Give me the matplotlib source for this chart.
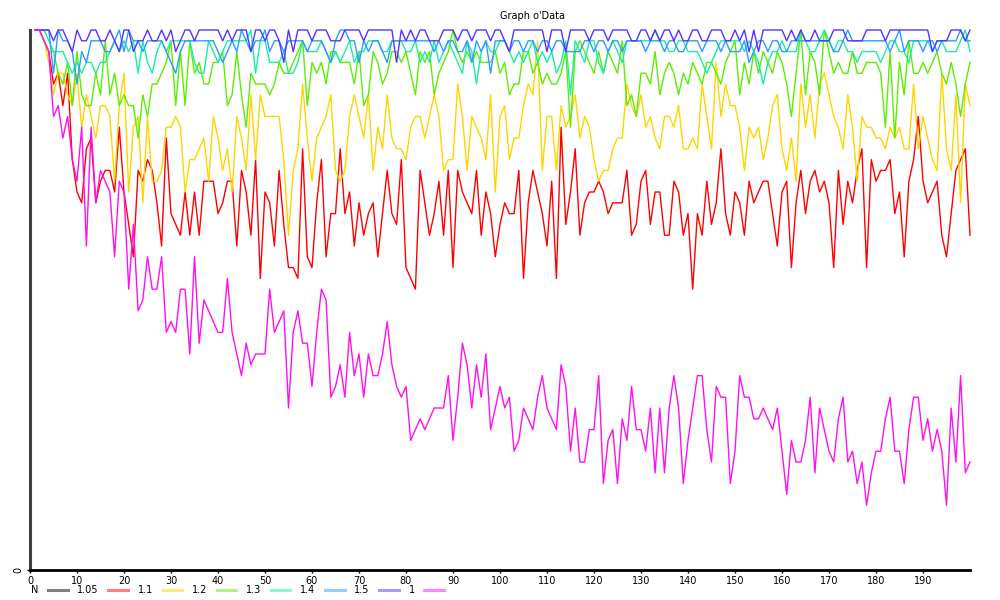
import matplotlib
matplotlib.use("Agg")
import matplotlib.pyplot as plt
from matplotlib.lines import Line2D
import numpy as np

x = list(range(1, 201))

s_1 = [50, 50, 49, 48, 42, 43, 40, 42, 38, 36,
       41, 30, 41, 34, 37, 36, 35, 29, 36, 35,
       26, 32, 24, 25, 29, 26, 26, 29, 22, 23,
       22, 26, 26, 20, 29, 21, 25, 24, 23, 22,
       22, 27, 22, 20, 18, 21, 19, 20, 20, 20,
       26, 22, 23, 24, 15, 22, 24, 21, 21, 17,
       22, 26, 25, 16, 17, 19, 16, 22, 18, 20,
       16, 20, 18, 18, 20, 23, 19, 17, 16, 17,
       12, 13, 14, 13, 14, 15, 15, 15, 18, 12,
       16, 21, 19, 15, 19, 16, 20, 13, 15, 17,
       15, 16, 11, 12, 15, 14, 13, 16, 18, 15,
       14, 13, 19, 17, 11, 15, 10, 10, 13, 13,
       18, 8, 12, 13, 8, 14, 12, 17, 13, 13,
       11, 15, 9, 15, 9, 15, 18, 15, 8, 12,
       15, 18, 18, 13, 10, 17, 16, 16, 8, 11,
       18, 16, 16, 14, 14, 15, 14, 13, 15, 11,
       7, 12, 10, 10, 12, 16, 9, 15, 13, 11,
       10, 14, 16, 10, 11, 8, 10, 6, 9, 11,
       11, 14, 16, 11, 11, 8, 13, 16, 16, 12,
       14, 11, 13, 11, 6, 15, 10, 18, 9, 10]

s_105 = [50, 50, 49, 48, 45, 46, 43, 46, 38, 35,
         34, 39, 40, 34, 36, 37, 37, 35, 41, 35,
         32, 29, 37, 36, 38, 37, 34, 30, 40, 33,
         32, 31, 35, 31, 35, 31, 36, 36, 36, 33,
         34, 36, 36, 30, 37, 35, 31, 38, 27, 35,
         34, 30, 37, 32, 28, 28, 27, 39, 29, 28,
         34, 38, 29, 33, 33, 39, 33, 35, 30, 34,
         31, 33, 34, 29, 33, 37, 33, 32, 38, 28,
         27, 26, 37, 34, 31, 33, 36, 31, 37, 28,
         37, 35, 34, 33, 37, 31, 35, 33, 29, 32,
         34, 33, 33, 37, 27, 34, 37, 35, 33, 30,
         36, 27, 41, 32, 35, 39, 31, 34, 35, 35,
         36, 35, 33, 34, 34, 34, 37, 31, 32, 36,
         37, 32, 35, 35, 31, 31, 36, 35, 31, 33,
         26, 33, 31, 36, 32, 34, 39, 33, 31, 35,
         34, 31, 36, 34, 35, 36, 36, 33, 30, 35,
         36, 28, 34, 37, 33, 36, 37, 35, 36, 34,
         28, 37, 32, 36, 34, 37, 39, 28, 38, 36,
         37, 37, 38, 33, 35, 29, 36, 38, 42, 36,
         34, 35, 36, 31, 29, 33, 37, 38, 39, 31]

s_11 = [50, 50, 49, 47, 44, 46, 46, 44, 43, 46,
        41, 44, 42, 40, 43, 43, 42, 36, 43, 46,
        35, 41, 42, 34, 42, 36, 36, 37, 41, 41,
        42, 41, 35, 38, 38, 39, 40, 36, 42, 40,
        37, 39, 35, 42, 40, 37, 44, 38, 44, 42,
        42, 42, 42, 38, 31, 37, 39, 45, 40, 36,
        40, 41, 42, 44, 37, 36, 37, 42, 44, 42,
        40, 44, 37, 41, 39, 44, 40, 39, 39, 38,
        41, 42, 42, 40, 42, 44, 42, 37, 38, 38,
        45, 42, 37, 42, 41, 40, 38, 44, 35, 42,
        43, 38, 40, 40, 43, 45, 44, 49, 37, 42,
        42, 37, 43, 41, 42, 44, 40, 42, 41, 38,
        36, 37, 37, 39, 40, 40, 45, 43, 42, 44,
        41, 42, 40, 39, 42, 42, 41, 43, 39, 39,
        40, 39, 45, 42, 39, 47, 42, 45, 43, 43,
        41, 37, 41, 40, 41, 38, 40, 43, 44, 39,
        37, 40, 36, 45, 41, 44, 40, 45, 46, 44,
        42, 41, 39, 44, 41, 36, 42, 41, 41, 40,
        40, 39, 41, 40, 41, 39, 39, 45, 39, 42,
        40, 38, 37, 46, 39, 37, 44, 34, 45, 43]

s_12 = [50, 50, 49, 48, 48, 46, 45, 47, 43, 48,
        44, 43, 43, 46, 44, 49, 44, 46, 43, 44,
        43, 43, 40, 44, 42, 45, 45, 46, 47, 49,
        43, 48, 43, 49, 46, 47, 45, 45, 47, 47,
        48, 43, 44, 48, 44, 41, 46, 45, 45, 45,
        44, 45, 47, 46, 46, 47, 48, 49, 43, 47,
        46, 47, 45, 48, 48, 47, 47, 47, 45, 48,
        43, 44, 48, 47, 45, 46, 48, 48, 47, 48,
        46, 44, 48, 47, 48, 44, 46, 47, 48, 50,
        48, 47, 48, 47, 48, 47, 47, 47, 48, 46,
        47, 44, 45, 45, 48, 48, 46, 47, 45, 46,
        45, 45, 46, 48, 41, 48, 49, 48, 47, 46,
        48, 46, 48, 47, 46, 49, 43, 44, 42, 46,
        46, 45, 48, 44, 46, 47, 46, 44, 46, 45,
        47, 46, 45, 47, 47, 46, 45, 47, 48, 49,
        44, 47, 45, 48, 46, 48, 47, 46, 48, 47,
        45, 42, 46, 50, 44, 48, 47, 44, 50, 48,
        46, 47, 46, 46, 48, 46, 46, 47, 47, 47,
        46, 41, 48, 40, 47, 44, 49, 46, 46, 47,
        46, 47, 48, 46, 45, 47, 45, 42, 45, 47]

s_13 = [50, 50, 50, 49, 48, 48, 48, 47, 46, 47,
        46, 47, 47, 46, 47, 47, 48, 49, 48, 49,
        48, 49, 46, 49, 47, 46, 48, 49, 48, 49,
        49, 49, 49, 49, 47, 46, 46, 49, 48, 47,
        48, 49, 49, 49, 49, 49, 50, 46, 49, 49,
        47, 47, 47, 48, 46, 46, 47, 49, 48, 48,
        48, 49, 48, 47, 48, 47, 48, 49, 47, 48,
        48, 49, 49, 49, 48, 48, 49, 49, 49, 48,
        48, 49, 47, 48, 47, 49, 47, 48, 49, 48,
        47, 46, 49, 48, 45, 48, 49, 48, 48, 49,
        49, 48, 47, 48, 47, 48, 49, 47, 48, 47,
        48, 46, 47, 49, 44, 49, 48, 47, 49, 49,
        47, 46, 48, 49, 48, 47, 49, 49, 49, 49,
        49, 49, 50, 49, 49, 48, 48, 49, 49, 48,
        48, 48, 47, 46, 47, 48, 49, 49, 49, 49,
        49, 48, 49, 48, 47, 45, 47, 48, 48, 49,
        48, 48, 48, 50, 49, 48, 48, 49, 50, 49,
        48, 49, 49, 48, 48, 47, 48, 48, 48, 48,
        47, 48, 49, 49, 48, 48, 47, 49, 49, 49,
        49, 48, 49, 49, 48, 48, 48, 49, 50, 48]

s_14 = [50, 50, 50, 50, 46, 50, 49, 49, 48, 45,
        48, 47, 49, 49, 49, 48, 48, 49, 50, 48,
        50, 49, 49, 48, 49, 49, 49, 49, 48, 47,
        46, 48, 49, 49, 49, 49, 49, 49, 49, 48,
        47, 48, 49, 48, 50, 49, 48, 49, 49, 50,
        48, 49, 49, 48, 49, 49, 49, 49, 48, 49,
        49, 49, 48, 47, 49, 50, 50, 49, 49, 47,
        49, 48, 49, 49, 48, 47, 49, 49, 49, 49,
        49, 49, 49, 49, 49, 48, 49, 48, 49, 49,
        48, 48, 49, 47, 49, 48, 49, 46, 49, 49,
        49, 48, 49, 49, 48, 49, 49, 48, 49, 49,
        48, 49, 49, 48, 48, 48, 48, 49, 49, 48,
        49, 49, 48, 49, 49, 48, 49, 49, 49, 49,
        48, 49, 49, 49, 48, 49, 49, 48, 48, 49,
        49, 49, 48, 49, 49, 49, 48, 49, 48, 48,
        48, 49, 47, 48, 49, 49, 48, 49, 49, 48,
        48, 49, 49, 49, 49, 49, 49, 49, 49, 49,
        48, 48, 49, 50, 49, 49, 49, 49, 49, 49,
        49, 49, 48, 49, 50, 48, 49, 49, 49, 48,
        49, 49, 48, 49, 49, 49, 49, 50, 49, 49]

s_15 = [50, 50, 50, 50, 49, 50, 50, 49, 48, 50,
        49, 49, 50, 50, 49, 49, 50, 49, 48, 50,
        50, 48, 49, 49, 50, 49, 49, 50, 49, 50,
        48, 49, 50, 50, 49, 50, 50, 50, 50, 50,
        49, 50, 49, 50, 50, 50, 48, 50, 50, 49,
        50, 50, 49, 47, 50, 48, 50, 50, 50, 49,
        50, 50, 50, 49, 49, 49, 50, 50, 50, 50,
        49, 50, 50, 50, 50, 50, 50, 47, 50, 49,
        50, 49, 50, 50, 49, 49, 49, 50, 50, 50,
        49, 50, 50, 49, 50, 50, 50, 49, 50, 50,
        49, 48, 50, 50, 50, 50, 50, 50, 50, 48,
        50, 50, 50, 48, 50, 50, 50, 50, 49, 50,
        50, 50, 49, 50, 50, 50, 50, 49, 49, 50,
        50, 49, 50, 49, 50, 50, 49, 50, 49, 49,
        50, 50, 49, 49, 50, 50, 50, 49, 49, 50,
        49, 50, 48, 50, 48, 50, 50, 50, 50, 50,
        49, 50, 49, 50, 49, 49, 50, 49, 49, 49,
        50, 50, 50, 49, 49, 49, 49, 50, 50, 50,
        50, 49, 50, 50, 50, 50, 50, 50, 50, 50,
        50, 48, 49, 49, 49, 50, 50, 50, 49, 50]

labels = ["N", "1.05", "1.1", "1.2", "1.3", "1.4", "1.5", "1"]
colors = ["#000000", "#ff0000", "#ffd400", "#5aee00", "#18eea0", "#2a9dff", "#5532ff", "#ff10f0"]
series = [None, s_105, s_11, s_12, s_13, s_14, s_15, s_1]
xticks = list(range(0, 200, 10))

plt.rcParams['font.family'] = ['DejaVu Sans']
fig = plt.figure(figsize=(10, 6), dpi=100)
ax = fig.add_axes([0.03, 0.05, 0.94, 0.90])

for lab, col, s in zip(labels, colors, series):
    if s is None:
        continue
    ax.plot(x, s, color=col, lw=1.0, clip_on=False)

ax.set_xlim(0, 200)
ax.set_ylim(0, 50)
ax.set_xticks(xticks)
ax.set_xticklabels([str(t) for t in xticks], fontsize=7)
ax.set_yticks([0])
ax.set_yticklabels(["0"], fontsize=7, rotation=90, va='center')
ax.tick_params(axis='x', length=2.5, width=1, pad=1.5, direction='out')
ax.tick_params(axis='y', length=2.5, width=1, pad=2, direction='out')
for sp in ['top', 'right']:
    ax.spines[sp].set_visible(False)
ax.spines['left'].set_color('#404040')
ax.spines['left'].set_linewidth(2.2)
ax.spines['bottom'].set_color('#000000')
ax.spines['bottom'].set_linewidth(2.0)

fig.text(0.5, 1 - 16 / 600, "Graph o'Data", fontsize=7, ha='left', va='center')

handles = [Line2D([], [], color=c, lw=2.2, alpha=0.5) for c in colors]
fig.legend(handles, labels, loc='upper left', bbox_to_anchor=(0.031, 1 - 585 / 600),
           ncol=8, frameon=False, fontsize=7, markerfirst=False,
           handlelength=2.0, handletextpad=1.0, columnspacing=1.0,
           borderpad=0, borderaxespad=0)

fig.savefig("out.png", dpi=100)
